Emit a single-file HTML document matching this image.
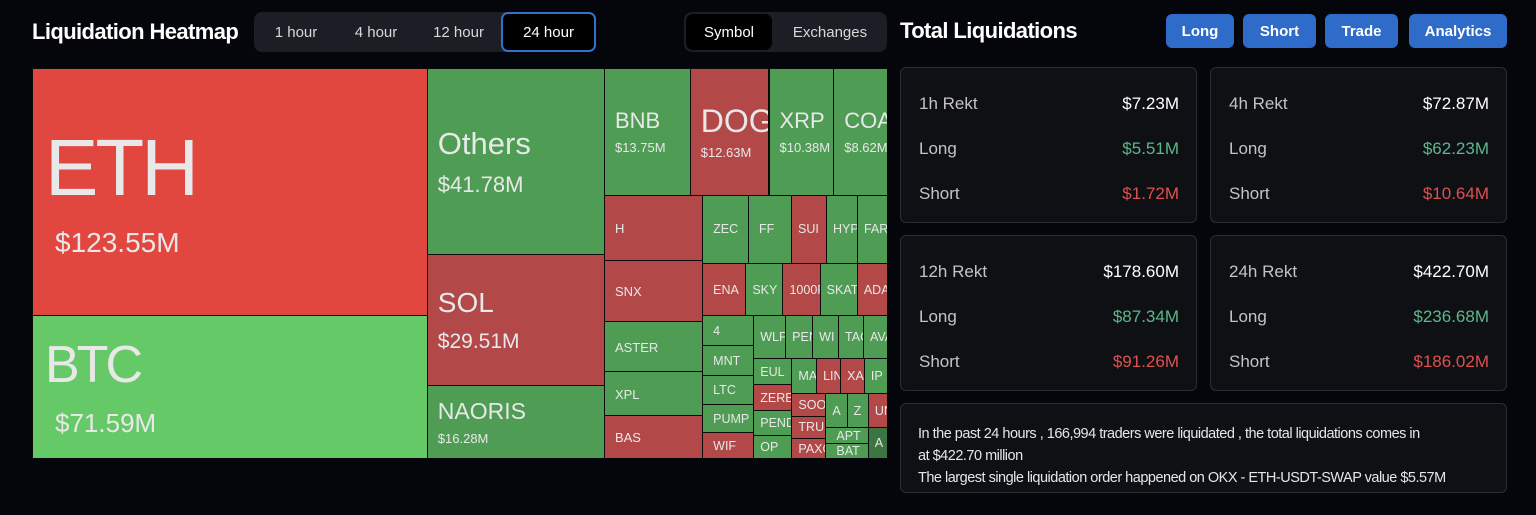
<!DOCTYPE html>
<html><head><meta charset="utf-8">
<style>
*{box-sizing:border-box;margin:0;padding:0}
body{width:1536px;height:515px;background:#05060c;font-family:"Liberation Sans",sans-serif;color:#e6e6e6;position:relative;overflow:hidden}
.abs{position:absolute}
.title{font-weight:bold;font-size:22px;color:#fff;letter-spacing:-0.6px}
.group{background:#1b1e24;border-radius:8px;height:40px;top:12px}
.tab{position:absolute;top:0;height:40px;line-height:42px;font-size:15px;color:#d8d8d8;text-align:center;border-radius:7px}
.tab.active{background:#000;color:#fff}
.btn{position:absolute;top:14px;height:34px;line-height:36px;background:#2f6bc9;color:#fff;font-weight:bold;font-size:15px;text-align:center;border-radius:6px}
.card{position:absolute;background:#0e1014;border:1px solid #2a2d33;border-radius:6px}
.row{position:absolute;left:18px;right:17px;font-size:17px;color:#c4c4c4}
.row span{position:absolute;right:0;top:0}
.w{color:#fff}.g{color:#5cb88a}.r{color:#e0504f}
#map{position:absolute;left:32px;top:68px;width:855px;height:390px;overflow:hidden}
.tile{position:absolute;border:1px solid #0b0b0b;overflow:hidden;color:#e8e8e8;white-space:nowrap}
.tile .lb{position:absolute;left:10px}
</style></head><body>
<div class="abs title" style="left:32px;top:19px">Liquidation Heatmap</div>
<div class="abs group" style="left:254px;width:342px">
 <div class="tab" style="left:2px;width:80px">1 hour</div>
 <div class="tab" style="left:82px;width:80px">4 hour</div>
 <div class="tab" style="left:162px;width:85px">12 hour</div>
 <div class="tab active" style="left:247px;width:95px;border:2px solid #3570c8;line-height:38px">24 hour</div>
</div>
<div class="abs group" style="left:684px;width:203px">
 <div class="tab active" style="left:2px;top:2px;height:36px;line-height:38px;width:86px">Symbol</div>
 <div class="tab" style="left:90px;width:112px">Exchanges</div>
</div>
<div id="map"></div>

<div class="abs title" style="left:900px;top:18px">Total Liquidations</div>
<div class="btn" style="left:1166px;width:68px">Long</div>
<div class="btn" style="left:1243px;width:73px">Short</div>
<div class="btn" style="left:1325px;width:73px">Trade</div>
<div class="btn" style="left:1409px;width:98px">Analytics</div>

<div class="card" style="left:900px;top:67px;width:297px;height:156px">
 <div class="row" style="top:26px">1h Rekt<span class="w">$7.23M</span></div>
 <div class="row" style="top:71px">Long<span class="g">$5.51M</span></div>
 <div class="row" style="top:116px">Short<span class="r">$1.72M</span></div>
</div>
<div class="card" style="left:1210px;top:67px;width:297px;height:156px">
 <div class="row" style="top:26px">4h Rekt<span class="w">$72.87M</span></div>
 <div class="row" style="top:71px">Long<span class="g">$62.23M</span></div>
 <div class="row" style="top:116px">Short<span class="r">$10.64M</span></div>
</div>
<div class="card" style="left:900px;top:235px;width:297px;height:156px">
 <div class="row" style="top:26px">12h Rekt<span class="w">$178.60M</span></div>
 <div class="row" style="top:71px">Long<span class="g">$87.34M</span></div>
 <div class="row" style="top:116px">Short<span class="r">$91.26M</span></div>
</div>
<div class="card" style="left:1210px;top:235px;width:297px;height:156px">
 <div class="row" style="top:26px">24h Rekt<span class="w">$422.70M</span></div>
 <div class="row" style="top:71px">Long<span class="g">$236.68M</span></div>
 <div class="row" style="top:116px">Short<span class="r">$186.02M</span></div>
</div>
<div class="card" style="left:900px;top:403px;width:607px;height:90px;padding:19px 20px 0 17px;font-size:14.5px;line-height:22px;color:#e6e6e6;letter-spacing:-0.5px">In the past 24 hours , 166,994 traders were liquidated , the total liquidations comes in<br>at $422.70 million<br>The largest single liquidation order happened on OKX - ETH-USDT-SWAP value $5.57M</div>

<script>
const names=["ETH","BTC","Others","SOL","NAORIS","BNB","DOGE","XRP","COAI","H","SNX","ASTER","XPL","BAS","ZEC","FF","SUI","HYPE","FAR","ENA","SKY","1000PEPE","SKATE","ADA","4","MNT","LTC","PUMP","WIF","WLFI","PENGU","WIF2","TAO","AVAX","EUL","ZEREBRO","PENDLE","OP","MASK","LINK","XAI","IP","SOON","TRUMP","PAXG","AAVE","ZORA","UNI","APT","BAT","ALT"];
const values=[123.55,71.59,41.78,29.51,16.28,13.75,12.63,10.38,8.62,8.2,7.58,6.2,5.47,5.34,3.96,3.71,3.02,2.67,2.59,2.89,2.49,2.49,2.49,2.02,1.94,1.93,1.85,1.83,1.68,1.70,1.44,1.38,1.33,1.28,1.30,1.25,1.20,1.11,1.10,1.07,1.06,1.03,1.0,0.93,0.88,0.93,0.93,0.84,0.85,0.80,0.75];
const sides=["s","l","o","s","l","l","s","l","l","s","s","l","l","s","l","l","s","l","l","s","l","s","l","s","l","l","l","l","s","l","l","l","l","l","l","s","l","l","l","s","s","l","s","s","s","l","l","s","l","l","d"];
const valueLabels={"ETH":"$123.55M","BTC":"$71.59M","Others":"$41.78M","SOL":"$29.51M","NAORIS":"$16.28M","BNB":"$13.75M","DOGE":"$12.63M","XRP":"$10.38M","COAI":"$8.62M"};
const shown={"WIF2":"WI","ALT":"A","AAVE":"A","ZORA":"Z"};
// style (not data)
const fonts={"ETH":[80,28],"BTC":[52,26],"Others":[31,22],"SOL":[28,21],"NAORIS":[23,13],"BNB":[22,13],"DOGE":[32,13],"XRP":[22,13],"COAI":[22,13]};
const colors={ETH:"#e2473f",BTC:"#66c967"};
const sideColor={l:"#4f9d54",s:"#b34848",o:"#4f9d54",d:"#3c7543"};
const W=855,H=390,ratio=(1+Math.sqrt(5))/2;
function layout(vals){
  const out=[];let x0=0,y0=0,x1=W,y1=H,value=vals.reduce((a,b)=>a+b,0),i0=0,i1=0,n=vals.length;
  while(i0<n){
    const dx=x1-x0,dy=y1-y0;let sum=vals[i1++],mn=sum,mx=sum;
    const alpha=Math.max(dy/dx,dx/dy)/(value*ratio);
    let beta=sum*sum*alpha,minR=Math.max(mx/beta,beta/mn);
    for(;i1<n;++i1){const v=vals[i1];sum+=v;if(v<mn)mn=v;if(v>mx)mx=v;beta=sum*sum*alpha;const nr=Math.max(mx/beta,beta/mn);if(nr>minR){sum-=v;break;}minR=nr;}
    if(dx<dy){const h=dy*sum/value;let x=x0;for(let i=i0;i<i1;i++){const w=dx*vals[i]/sum;out[i]=[x,y0,w,h];x+=w;}y0+=h;}
    else{const w=dx*sum/value;let y=y0;for(let i=i0;i<i1;i++){const h=dy*vals[i]/sum;out[i]=[x0,y,w,h];y+=h;}x0+=w;}
    value-=sum;i0=i1;
  }
  return out;
}
const rects=layout(values);
const map=document.getElementById('map');
names.forEach((nm,i)=>{
  const [x,y,w,h]=rects[i];
  const d=document.createElement('div');
  d.className='tile';
  
  
  d.style.left=x+'px';d.style.top=y+'px';d.style.width=(w+1)+'px';d.style.height=(h+1)+'px';
  d.style.background=colors[nm]||sideColor[sides[i]];
  const lab=shown[nm]||nm;
  const f=fonts[nm];
  if(f){
    const big=f[0],small=f[1];
    const tot=big*1.05+small*1.6;
    const top=(h-tot)/2;
    const ls=big>40?'letter-spacing:-3px;':'';
    d.innerHTML='<div class="lb" style="'+ls+'top:'+top+'px;font-size:'+big+'px;line-height:'+big+'px;left:'+(big>40?12:10)+'px">'+lab+'</div><div class="lb" style="top:'+(top+big*1.05+small*0.6)+'px;font-size:'+small+'px;line-height:'+small+'px;left:'+(big>40?22:10)+'px">'+valueLabels[nm]+'</div>';
  }else{
    const fs=w>60?13:12.5;
    d.innerHTML='<div class="lb" style="top:'+((h-fs)/2)+'px;font-size:'+fs+'px;line-height:'+fs+'px;left:'+(w>40?10:6)+'px">'+lab+'</div>';
  }
  map.appendChild(d);
});
</script>
</body></html>
